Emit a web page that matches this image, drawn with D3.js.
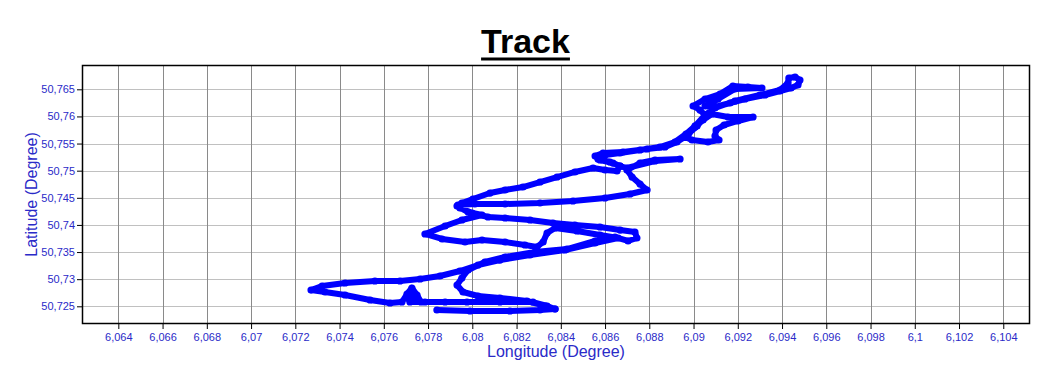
<!DOCTYPE html>
<html>
<head>
<meta charset="utf-8">
<script src="https://cdn.jsdelivr.net/npm/d3@7"></script>
<style>
  html, body { margin: 0; padding: 0; background: #ffffff; }
  svg { display: block; font-family: "Liberation Sans", Arial, sans-serif; }
</style>
</head>
<body>
<svg id="chart" width="1050" height="383"></svg>
<script>
// ---- data ----
const title = "Track";
const xTitle = "Longitude (Degree)";
const yTitle = "Latitude (Degree)";

const xTicks = [6.064, 6.066, 6.068, 6.07, 6.072, 6.074, 6.076, 6.078, 6.08, 6.082, 6.084, 6.086, 6.088, 6.09, 6.092, 6.094, 6.096, 6.098, 6.1, 6.102, 6.104];
const xTickLabels = ["6,064", "6,066", "6,068", "6,07", "6,072", "6,074", "6,076", "6,078", "6,08", "6,082", "6,084", "6,086", "6,088", "6,09", "6,092", "6,094", "6,096", "6,098", "6,1", "6,102", "6,104"];
const yTicks = [50.725, 50.73, 50.735, 50.74, 50.745, 50.75, 50.755, 50.76, 50.765];
const yTickLabels = ["50,725", "50,73", "50,735", "50,74", "50,745", "50,75", "50,755", "50,76", "50,765"];

const lon = [
  6.07840, 6.07990, 6.08170, 6.08306, 6.08374, 6.08329, 6.08247, 6.08125, 6.08026, 6.07958,
  6.07931, 6.07953, 6.07981, 6.08057, 6.08148, 6.08283, 6.08428, 6.08555, 6.08645, 6.08704,
  6.08744, 6.08735, 6.08668, 6.08577, 6.08464, 6.08365, 6.08261, 6.08148, 6.08071, 6.07999,
  6.07944, 6.07935, 6.08012, 6.08148, 6.08306, 6.08455, 6.08600, 6.08713, 6.08790, 6.08758,
  6.08722, 6.08699, 6.08758, 6.08826, 6.08939, 6.08826, 6.08699, 6.08668, 6.08636, 6.08577,
  6.08555, 6.08591, 6.08681, 6.08790, 6.08871, 6.08925, 6.08975, 6.09007, 6.09043, 6.09083,
  6.09156, 6.09269, 6.09201, 6.09138, 6.09102, 6.09097, 6.09115, 6.09065, 6.08993, 6.08961,
  6.09016, 6.09056, 6.09029, 6.08998, 6.09052, 6.09120, 6.09178, 6.09246, 6.09309, 6.09187,
  6.09111, 6.09052, 6.09097, 6.09165, 6.09233, 6.09323, 6.09391, 6.09441, 6.09472, 6.09481,
  6.09459, 6.09431, 6.09427, 6.09391, 6.09300, 6.09187, 6.09097, 6.09052, 6.09007, 6.08966,
  6.08916, 6.08848, 6.08758, 6.08668, 6.08600, 6.08568, 6.08622, 6.08668, 6.08654, 6.08600,
  6.08546, 6.08464, 6.08383, 6.08306, 6.08229, 6.08148, 6.08080, 6.08003, 6.07953, 6.07931,
  6.07981, 6.08044, 6.07953, 6.07877, 6.07786, 6.07863, 6.07967, 6.08044, 6.08148, 6.08238,
  6.08292, 6.08320, 6.08338, 6.08374, 6.08473, 6.08577, 6.08659, 6.08555, 6.08419, 6.08261,
  6.08125, 6.08026, 6.07944, 6.07854, 6.07764, 6.07673, 6.07560, 6.07425, 6.07321, 6.07271,
  6.07334, 6.07425, 6.07538, 6.07628, 6.07682, 6.07705, 6.07727, 6.07750, 6.07768, 6.07736,
  6.07714, 6.07727, 6.07718, 6.07786, 6.07877, 6.07976, 6.08125, 6.08274, 6.08338, 6.08374
];
const lat = [
  50.72432, 50.72413, 50.72413, 50.72432, 50.72450, 50.72506, 50.72598, 50.72653, 50.72690, 50.72764,
  50.72893, 50.73022, 50.73169, 50.73317, 50.73409, 50.73501, 50.73556, 50.73704, 50.73777, 50.73704,
  50.73759, 50.73870, 50.73906, 50.73962, 50.73999, 50.74035, 50.74091, 50.74128, 50.74146, 50.74220,
  50.74312, 50.74367, 50.74386, 50.74386, 50.74404, 50.74441, 50.74496, 50.74570, 50.74644, 50.74754,
  50.74883, 50.75012, 50.75141, 50.75197, 50.75215, 50.75178, 50.75049, 50.75086, 50.75141, 50.75197,
  50.75270, 50.75326, 50.75344, 50.75400, 50.75436, 50.75529, 50.75658, 50.75805, 50.75934, 50.76045,
  50.75989, 50.75989, 50.75916, 50.75842, 50.75750, 50.75639, 50.75565, 50.75529, 50.75565, 50.75621,
  50.75824, 50.76008, 50.76118, 50.76192, 50.76321, 50.76413, 50.76561, 50.76542, 50.76524, 50.76506,
  50.76321, 50.76192, 50.76174, 50.76247, 50.76321, 50.76395, 50.76469, 50.76524, 50.76579, 50.76671,
  50.76727, 50.76708, 50.76616, 50.76487, 50.76395, 50.76284, 50.76155, 50.76026, 50.75824, 50.75676,
  50.75529, 50.75436, 50.75381, 50.75326, 50.75289, 50.75215, 50.75160, 50.75086, 50.74994, 50.75012,
  50.75049, 50.74976, 50.74883, 50.74791, 50.74699, 50.74644, 50.74588, 50.74478, 50.74404, 50.74349,
  50.74238, 50.74183, 50.74091, 50.73980, 50.73833, 50.73741, 50.73685, 50.73722, 50.73685, 50.73630,
  50.73593, 50.73685, 50.73851, 50.73943, 50.73888, 50.73814, 50.73759, 50.73667, 50.73538, 50.73446,
  50.73353, 50.73261, 50.73151, 50.73059, 50.73003, 50.72966, 50.72966, 50.72930, 50.72874, 50.72800,
  50.72764, 50.72708, 50.72616, 50.72561, 50.72579, 50.72727, 50.72837, 50.72708, 50.72579, 50.72671,
  50.72635, 50.72764, 50.72579, 50.72579, 50.72579, 50.72579, 50.72579, 50.72579, 50.72506, 50.72450
];

// ---- layout ----
const W = 1050, H = 383;
const plot = { left: 82, right: 1030, top: 65, bottom: 324 };
const labelColor = "#2a2ac8";
const trackColor = "#0000ff";

const svg = d3.select("#chart");
svg.append("rect").attr("width", W).attr("height", H).attr("fill", "#ffffff");

const x = d3.scaleLinear().domain([6.062358, 6.105208]).range([plot.left, plot.right]);
const y = d3.scaleLinear().domain([50.721738, 50.769479]).range([plot.bottom, plot.top]);

// grid
const grid = svg.append("g");
grid.selectAll("line.h").data(yTicks).join("line")
  .attr("class", "h")
  .attr("x1", plot.left).attr("x2", plot.right)
  .attr("y1", d => Math.round(y(d)) + 0.5).attr("y2", d => Math.round(y(d)) + 0.5)
  .attr("stroke", "#c0c0c0").attr("stroke-width", 1);
grid.selectAll("line.v").data(xTicks).join("line")
  .attr("class", "v")
  .attr("y1", plot.top).attr("y2", plot.bottom)
  .attr("x1", d => Math.round(x(d)) + 0.5).attr("x2", d => Math.round(x(d)) + 0.5)
  .attr("stroke", "#8a8a8a").attr("stroke-width", 1);

// track
const pts = lon.map((d, i) => [d, lat[i]]);
const line = d3.line().x(d => x(d[0])).y(d => y(d[1]));
svg.append("path")
  .datum(pts)
  .attr("d", line)
  .attr("fill", "none")
  .attr("stroke", trackColor)
  .attr("stroke-width", 6)
  .attr("stroke-linejoin", "round")
  .attr("stroke-linecap", "round");
svg.append("g").selectAll("circle").data(pts).join("circle")
  .attr("cx", d => x(d[0])).attr("cy", d => y(d[1]))
  .attr("r", 3.6).attr("fill", trackColor);

// frame
svg.append("rect")
  .attr("x", plot.left + 0.5).attr("y", plot.top + 0.5)
  .attr("width", plot.right - plot.left - 1).attr("height", plot.bottom - plot.top - 1)
  .attr("fill", "none").attr("stroke", "#000000").attr("stroke-width", 1.5);

// axes
const xAxis = d3.axisBottom(x).tickValues(xTicks)
  .tickFormat((d, i) => xTickLabels[i]).tickSize(5).tickSizeOuter(0).tickPadding(4);
const gx = svg.append("g").attr("transform", `translate(0,${plot.bottom})`).call(xAxis);
const yAxis = d3.axisLeft(y).tickValues(yTicks)
  .tickFormat((d, i) => yTickLabels[i]).tickSize(5).tickSizeOuter(0).tickPadding(2);
const gy = svg.append("g").attr("transform", `translate(${plot.left},0)`).call(yAxis);
[gx, gy].forEach(g => {
  g.select(".domain").remove();
  g.selectAll(".tick line").attr("stroke", "#000000");
  g.selectAll(".tick text")
    .attr("fill", labelColor)
    .style("font-family", '"Liberation Sans", Arial, sans-serif')
    .style("font-size", "11px");
});

// axis titles
svg.append("text")
  .attr("x", (plot.left + plot.right) / 2).attr("y", 357)
  .attr("text-anchor", "middle")
  .attr("fill", labelColor)
  .style("font-size", "16px")
  .text(xTitle);
svg.append("text")
  .attr("transform", `translate(37,${(plot.top + plot.bottom) / 2}) rotate(-90)`)
  .attr("text-anchor", "middle")
  .attr("fill", labelColor)
  .style("font-size", "16px")
  .text(yTitle);

// title with underline
const t = svg.append("text")
  .attr("x", 525.5).attr("y", 53)
  .attr("text-anchor", "middle")
  .attr("fill", "#000000")
  .style("font-size", "34px")
  .style("font-weight", "bold")
  .text(title);
const tw = t.node().getComputedTextLength();
svg.append("rect")
  .attr("x", 525.5 - tw / 2).attr("y", 57.5)
  .attr("width", tw).attr("height", 3)
  .attr("fill", "#000000");
</script>
</body>
</html>
